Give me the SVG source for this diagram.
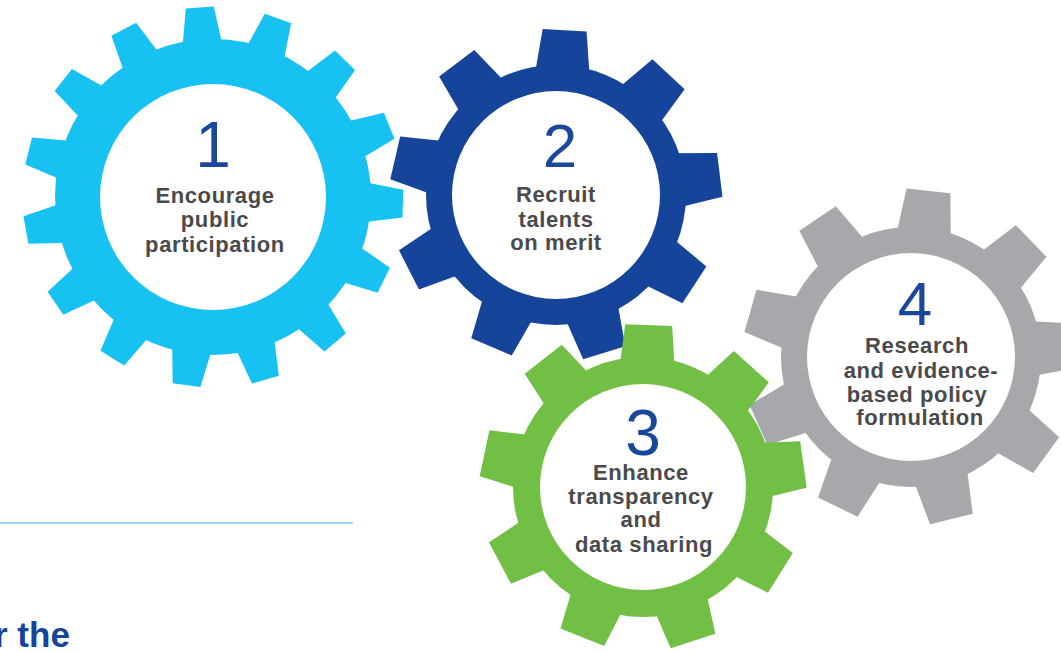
<svg xmlns="http://www.w3.org/2000/svg" xmlns:xlink="http://www.w3.org/1999/xlink" width="1061" height="651" viewBox="0 0 1061 651">
<style>
.num{font-family:"Liberation Sans",Arial,sans-serif;font-weight:400;fill:#1a479b;text-anchor:middle}
.lbl{font-family:"Liberation Sans",Arial,sans-serif;font-weight:700;font-size:22px;fill:#4a4a4c;text-anchor:middle;letter-spacing:0.6px}
.c1{fill:#17c2f2}.c2{fill:#16449a}.c3{fill:#72bf45}.c4{fill:#a7a8ac}
.hole{fill:#ffffff}
</style>
<defs>
<polygon id="t1" points="-21,-145 -14,-190 14,-190 21,-145"/>
<polygon id="t2" points="-28,-115 -22,-165 22,-165 28,-115"/>
<polygon id="t3" points="-28,-115 -23.5,-162 23.5,-162 28,-115"/>
<polygon id="t4" points="-28,-115 -22,-167 22,-167 28,-115"/>
</defs>
<rect width="1061" height="651" fill="#ffffff"/>
<g id="connectors"></g>
<g id="gear1" transform="translate(213,197)">
<g class="c1">
<circle r="158"/>
<use xlink:href="#t1" transform="rotate(-4)"/>
<use xlink:href="#t1" transform="rotate(20)"/>
<use xlink:href="#t1" transform="rotate(44)"/>
<use xlink:href="#t1" transform="rotate(68)"/>
<use xlink:href="#t1" transform="rotate(92)"/>
<use xlink:href="#t1" transform="rotate(116)"/>
<use xlink:href="#t1" transform="rotate(140)"/>
<use xlink:href="#t1" transform="rotate(164)"/>
<use xlink:href="#t1" transform="rotate(188)"/>
<use xlink:href="#t1" transform="rotate(212)"/>
<use xlink:href="#t1" transform="rotate(236)"/>
<use xlink:href="#t1" transform="rotate(260)"/>
<use xlink:href="#t1" transform="rotate(284)"/>
<use xlink:href="#t1" transform="rotate(308)"/>
<use xlink:href="#t1" transform="rotate(332)"/>
</g>
<circle class="hole" r="113"/>
<text class="num" x="0" y="-30" font-size="64">1</text>
<text class="lbl" x="2" y="6">Encourage</text>
<text class="lbl" x="2" y="30">public</text>
<text class="lbl" x="2" y="55">participation</text>
</g>
<g id="gear2" transform="translate(556,195)">
<g class="c2">
<circle r="130"/>
<use xlink:href="#t2" transform="rotate(3)"/>
<use xlink:href="#t2" transform="rotate(43)"/>
<use xlink:href="#t2" transform="rotate(83)"/>
<use xlink:href="#t2" transform="rotate(123)"/>
<use xlink:href="#t2" transform="rotate(163)"/>
<use xlink:href="#t2" transform="rotate(203)"/>
<use xlink:href="#t2" transform="rotate(243)"/>
<use xlink:href="#t2" transform="rotate(283)"/>
<use xlink:href="#t2" transform="rotate(323)"/>
</g>
<circle class="hole" r="104"/>
<text class="num" x="4" y="-28" font-size="62">2</text>
<text class="lbl" x="0" y="7">Recruit</text>
<text class="lbl" x="0" y="32">talents</text>
<text class="lbl" x="0" y="55">on merit</text>
</g>
<g id="gear4" transform="translate(911,357)">
<g class="c4">
<circle r="130"/>
<use xlink:href="#t4" transform="rotate(6)"/>
<use xlink:href="#t4" transform="rotate(46)"/>
<use xlink:href="#t4" transform="rotate(86)"/>
<use xlink:href="#t4" transform="rotate(126)"/>
<use xlink:href="#t4" transform="rotate(166)"/>
<use xlink:href="#t4" transform="rotate(206)"/>
<use xlink:href="#t4" transform="rotate(246)"/>
<use xlink:href="#t4" transform="rotate(286)"/>
<use xlink:href="#t4" transform="rotate(326)"/>
</g>
<circle class="hole" r="104"/>
<text class="num" x="4" y="-32" font-size="62">4</text>
<text class="lbl" x="6" y="-4">Research</text>
<text class="lbl" x="10" y="21">and evidence-</text>
<text class="lbl" x="6" y="45">based policy</text>
<text class="lbl" x="9" y="68">formulation</text>
</g>
<g id="gear3" transform="translate(643,487)">
<g class="c3">
<circle r="130"/>
<use xlink:href="#t3" transform="rotate(2)"/>
<use xlink:href="#t3" transform="rotate(42)"/>
<use xlink:href="#t3" transform="rotate(82)"/>
<use xlink:href="#t3" transform="rotate(122)"/>
<use xlink:href="#t3" transform="rotate(162)"/>
<use xlink:href="#t3" transform="rotate(202)"/>
<use xlink:href="#t3" transform="rotate(242)"/>
<use xlink:href="#t3" transform="rotate(282)"/>
<use xlink:href="#t3" transform="rotate(322)"/>
</g>
<circle class="hole" r="103"/>
<text class="num" x="0" y="-32" font-size="64">3</text>
<text class="lbl" x="-2" y="-7">Enhance</text>
<text class="lbl" x="-2" y="17">transparency</text>
<text class="lbl" x="-2" y="40">and</text>
<text class="lbl" x="1" y="65">data sharing</text>
</g>
<line x1="0" y1="523" x2="353" y2="523" stroke="#7dd3f0" stroke-width="1.5"/>
<text x="-6" y="647" font-family="Liberation Sans, Arial, sans-serif" font-weight="700" font-size="35" fill="#16449a">r the</text>
</svg>
